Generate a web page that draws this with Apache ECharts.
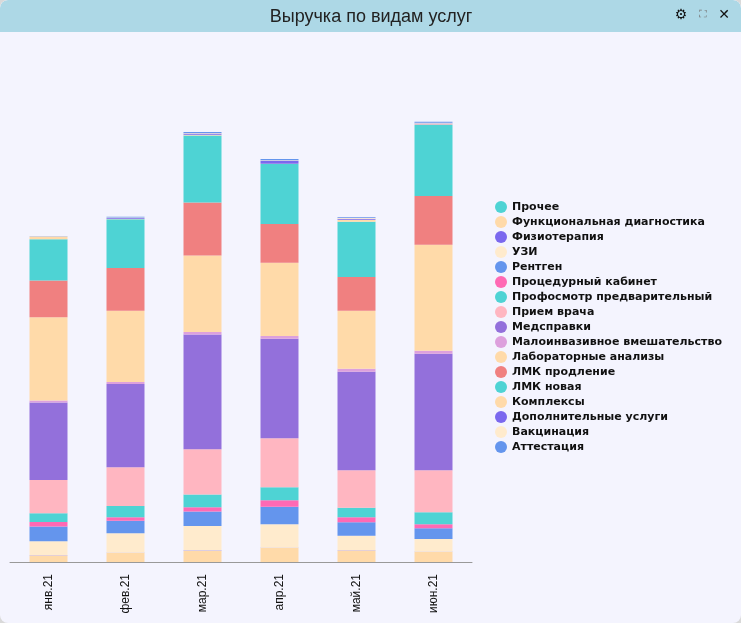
<!DOCTYPE html>
<html>
<head>
<meta charset="utf-8">
<script src="https://cdn.jsdelivr.net/npm/echarts@6/dist/echarts.min.js"></script>
<style>
  html, body { margin: 0; padding: 0; background: #d9d9d9; }
  #box { width: 741px; height: 623px; background: #f4f4fe; border-radius: 8px; overflow: hidden; }
  #chart { width: 741px; height: 623px; }
</style>
</head>
<body>
<div id="box"><div id="chart"></div></div>
<script>
// месяцы
var months = ["янв.21", "фев.21", "мар.21", "апр.21", "май.21", "июн.21"];

// выручка по видам услуг (порядок = порядок стека снизу вверх)
var prochee = [1, 1, 1, 1, 1, 1];
var funcDiag = [65, 90, 110, 140, 114, 100];
var fizio = [2, 2, 3, 2, 2, 2];
var uzi = [140, 194, 247, 234, 146, 127];
var rentgen = [146, 126, 143, 176, 134, 107];
var procKab = [47, 34, 44, 64, 50, 40];
var profosmotr = [87, 113, 126, 130, 96, 120];
var priem = [333, 387, 454, 490, 374, 420];
var medspravki = [773, 833, 1146, 996, 986, 1166];
var maloinv = [20, 20, 27, 27, 30, 30];
var labAnaliz = [834, 713, 763, 733, 580, 1060];
var lmkProdl = [366, 427, 530, 387, 337, 487];
var lmkNew = [414, 487, 670, 600, 553, 710];
var kompleksy = [26, 5, 8, 3, 20, 8];
var dopUslugi = [2, 8, 12, 30, 10, 8];
var vakcin = [2, 5, 5, 5, 10, 7];
var attest = [2, 7, 12, 12, 7, 10];

var seriesList = [
  ["Прочее", prochee, "#4ed3d4"],
  ["Функциональная диагностика", funcDiag, "#ffdaa9"],
  ["Физиотерапия", fizio, "#7b68ee"],
  ["УЗИ", uzi, "#ffebcd"],
  ["Рентген", rentgen, "#6495ed"],
  ["Процедурный кабинет", procKab, "#ff69b4"],
  ["Профосмотр предварительный", profosmotr, "#4ed3d4"],
  ["Прием врача", priem, "#ffb6c1"],
  ["Медсправки", medspravki, "#9370db"],
  ["Малоинвазивное вмешательство", maloinv, "#dda0dd"],
  ["Лабораторные анализы", labAnaliz, "#ffdaa9"],
  ["ЛМК продление", lmkProdl, "#f08080"],
  ["ЛМК новая", lmkNew, "#4ed3d4"],
  ["Комплексы", kompleksy, "#ffdaa9"],
  ["Дополнительные услуги", dopUslugi, "#7b68ee"],
  ["Вакцинация", vakcin, "#ffebcd"],
  ["Аттестация", attest, "#6495ed"]
];

var chart = echarts.init(document.getElementById("chart"));

var series = seriesList.map(function(s) {
  return {
    name: s[0],
    type: "bar",
    stack: "total",
    barWidth: 38,
    data: s[1],
    itemStyle: { color: s[2] }
  };
});

var option = {
  animation: false,
  textStyle: { fontFamily: "Liberation Sans, Arial, sans-serif" },
  graphic: [
    {
      type: "rect",
      shape: { x: 0, y: 0, width: 741, height: 32, r: [8, 8, 0, 0] },
      style: { fill: "#add8e6" },
      z: 0
    },
    {
      type: "text",
      x: 371, y: 17,
      style: {
        text: "Выручка по видам услуг",
        fill: "#222",
        font: "18px 'Liberation Sans', Arial, sans-serif",
        align: "center",
        verticalAlign: "middle"
      }
    },
    {
      type: "text",
      x: 681, y: 15,
      style: { text: "⚙", fill: "#111", font: "bold 14px 'DejaVu Sans'", align: "center", verticalAlign: "middle" }
    },
    {
      type: "text",
      x: 703, y: 15,
      style: { text: "⛶", fill: "#777", font: "11px 'DejaVu Sans'", align: "center", verticalAlign: "middle" }
    },
    {
      type: "text",
      x: 724, y: 15,
      style: { text: "✕", fill: "#111", font: "14px 'DejaVu Sans'", align: "center", verticalAlign: "middle" }
    }
  ],
  legend: {
    orient: "vertical",
    left: 490,
    top: 196,
    icon: "circle",
    itemWidth: 12,
    itemHeight: 12,
    itemGap: 3,
    textStyle: {
      color: "#111",
      fontFamily: "DejaVu Sans",
      fontWeight: "bold",
      fontSize: 11,
      lineHeight: 12
    },
    data: seriesList.map(function(s) { return s[0]; })
  },
  grid: { left: 10, right: 269, top: 112, bottom: 61 },
  xAxis: {
    type: "category",
    data: months,
    axisLine: { lineStyle: { color: "#999" } },
    axisTick: { show: false },
    axisLabel: { rotate: 90, color: "#111", fontSize: 12, margin: 12 }
  },
  yAxis: {
    type: "value",
    min: 0,
    max: 4500,
    show: false,
    splitLine: { show: false }
  },
  series: series
};

chart.setOption(option);
</script>
</body>
</html>
